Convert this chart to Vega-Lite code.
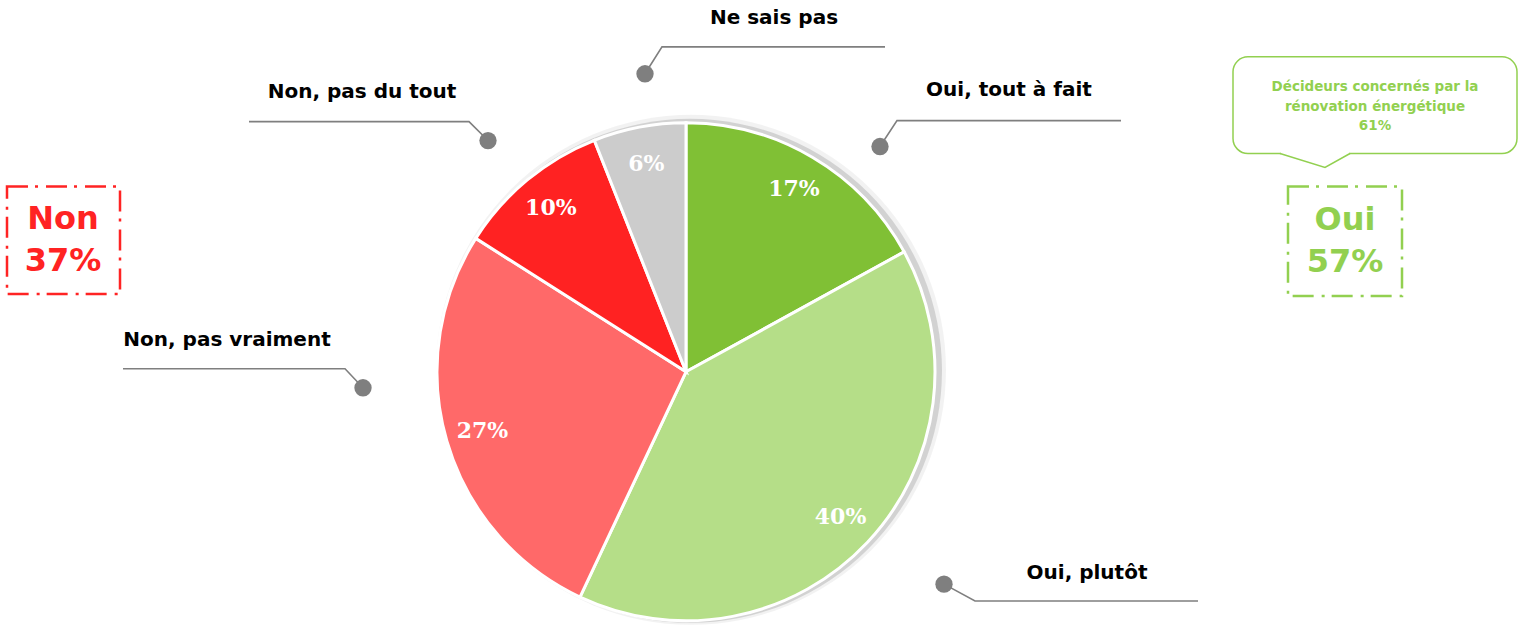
{
  "$schema": "https://vega.github.io/schema/vega-lite/v6.json",
  "width": 1518,
  "height": 626,
  "autosize": {"type": "fit", "contains": "padding"},
  "padding": 0,
  "background": "white",
  "config": {"view": {"stroke": null}},
  "datasets": {
    "slices": [
      {"cat": "Oui, tout à fait", "pct": 17, "ord": 1, "label": "17%"},
      {"cat": "Oui, plutôt", "pct": 40, "ord": 2, "label": "40%"},
      {"cat": "Non, pas vraiment", "pct": 27, "ord": 3, "label": "27%"},
      {"cat": "Non, pas du tout", "pct": 10, "ord": 4, "label": "10%"},
      {"cat": "Ne sais pas", "pct": 6, "ord": 5, "label": "6%"}
    ],
    "leaders": [
      {"cat": "Ne sais pas", "seq": 0, "x": 645, "y": 74},
      {"cat": "Ne sais pas", "seq": 1, "x": 662, "y": 47},
      {"cat": "Ne sais pas", "seq": 2, "x": 885, "y": 47},
      {"cat": "Oui, tout à fait", "seq": 0, "x": 880, "y": 147},
      {"cat": "Oui, tout à fait", "seq": 1, "x": 897, "y": 121},
      {"cat": "Oui, tout à fait", "seq": 2, "x": 1121, "y": 121},
      {"cat": "Non, pas du tout", "seq": 0, "x": 488, "y": 141},
      {"cat": "Non, pas du tout", "seq": 1, "x": 469, "y": 122},
      {"cat": "Non, pas du tout", "seq": 2, "x": 249, "y": 122},
      {"cat": "Non, pas vraiment", "seq": 0, "x": 363, "y": 389},
      {"cat": "Non, pas vraiment", "seq": 1, "x": 345, "y": 370},
      {"cat": "Non, pas vraiment", "seq": 2, "x": 123, "y": 370},
      {"cat": "Oui, plutôt", "seq": 0, "x": 944, "y": 586},
      {"cat": "Oui, plutôt", "seq": 1, "x": 975, "y": 603},
      {"cat": "Oui, plutôt", "seq": 2, "x": 1198, "y": 603}
    ],
    "catLabels": [
      {"t": "Ne sais pas", "x": 774, "y": 18},
      {"t": "Oui, tout à fait", "x": 1009, "y": 90},
      {"t": "Non, pas du tout", "x": 362, "y": 92},
      {"t": "Non, pas vraiment", "x": 227, "y": 341},
      {"t": "Oui, plutôt", "x": 1087, "y": 575}
    ],
    "boxes": [
      {"side": "Oui", "x": 1288, "x2": 1402, "y": 187, "y2": 297},
      {"side": "Non", "x": 7, "x2": 120, "y": 187, "y2": 295}
    ],
    "bigText": [
      {"side": "Oui", "t": "Oui", "x": 1345, "y": 221},
      {"side": "Oui", "t": "57%", "x": 1345, "y": 263},
      {"side": "Non", "t": "Non", "x": 63, "y": 220},
      {"side": "Non", "t": "37%", "x": 63, "y": 262}
    ],
    "bubble": [{"x": 1233, "x2": 1517, "y": 57, "y2": 154}],
    "bubbleCover": [{"x": 1281, "x2": 1349, "y": 154}],
    "pointer": [
      {"seq": 0, "x": 1280, "y": 154},
      {"seq": 1, "x": 1325, "y": 168},
      {"seq": 2, "x": 1350, "y": 154}
    ],
    "bubbleText": [
      {"t": "Décideurs concernés par la", "x": 1375, "y": 87},
      {"t": "rénovation énergétique", "x": 1375, "y": 107},
      {"t": "61%", "x": 1375, "y": 126}
    ]
  },
  "layer": [
    {
      "data": {"values": [{"r": 1}]},
      "mark": {"type": "arc", "outerRadius": 255, "theta": 0, "theta2": 6.2832, "fill": "#000000", "opacity": 0.05},
      "encoding": {
        "x": {"datum": 691, "type": "quantitative", "scale": {"domain": [0, 1518], "nice": false, "zero": false}, "axis": null},
        "y": {"datum": 371, "type": "quantitative", "scale": {"domain": [0, 626], "reverse": true, "nice": false, "zero": false}, "axis": null}
      }
    },
    {
      "data": {"values": [{"r": 1}]},
      "mark": {"type": "arc", "outerRadius": 252, "theta": 0, "theta2": 6.2832, "fill": "#000000", "opacity": 0.13},
      "encoding": {
        "x": {"datum": 690, "type": "quantitative", "scale": {"domain": [0, 1518], "nice": false, "zero": false}, "axis": null},
        "y": {"datum": 372, "type": "quantitative", "scale": {"domain": [0, 626], "reverse": true, "nice": false, "zero": false}, "axis": null}
      }
    },
    {
      "data": {"name": "slices"},
      "mark": {"type": "arc", "outerRadius": 249, "stroke": "white", "strokeWidth": 3},
      "encoding": {
        "x": {"datum": 686, "type": "quantitative", "scale": {"domain": [0, 1518], "nice": false, "zero": false}, "axis": null},
        "y": {"datum": 373, "type": "quantitative", "scale": {"domain": [0, 626], "reverse": true, "nice": false, "zero": false}, "axis": null},
        "theta": {"field": "pct", "type": "quantitative", "stack": true},
        "order": {"field": "ord", "type": "quantitative"},
        "color": {
          "field": "cat",
          "type": "nominal",
          "scale": {
            "domain": ["Oui, tout à fait", "Oui, plutôt", "Non, pas vraiment", "Non, pas du tout", "Ne sais pas"],
            "range": ["#80C035", "#B5DE88", "#FF6969", "#FF2222", "#CCCCCC"]
          },
          "legend": null
        }
      }
    },
    {
      "data": {"name": "slices"},
      "mark": {"type": "text", "radius": 212, "font": "DejaVu Serif", "fontWeight": "bold", "fontSize": 22, "fill": "white", "align": "center", "baseline": "middle"},
      "encoding": {
        "x": {"datum": 686, "type": "quantitative", "scale": {"domain": [0, 1518], "nice": false, "zero": false}, "axis": null},
        "y": {"datum": 373, "type": "quantitative", "scale": {"domain": [0, 626], "reverse": true, "nice": false, "zero": false}, "axis": null},
        "theta": {"field": "pct", "type": "quantitative", "stack": true},
        "order": {"field": "ord", "type": "quantitative"},
        "detail": {"field": "cat", "type": "nominal"},
        "text": {"field": "label", "type": "nominal"}
      }
    },
    {
      "data": {"name": "leaders"},
      "mark": {"type": "line", "stroke": "#7F7F7F", "strokeWidth": 1.6},
      "encoding": {
        "x": {"field": "x", "type": "quantitative", "scale": {"domain": [0, 1518], "nice": false, "zero": false}, "axis": null},
        "y": {"field": "y", "type": "quantitative", "scale": {"domain": [0, 626], "reverse": true, "nice": false, "zero": false}, "axis": null},
        "detail": {"field": "cat", "type": "nominal"},
        "order": {"field": "seq", "type": "quantitative"}
      }
    },
    {
      "data": {"name": "leaders"},
      "transform": [{"filter": "datum.seq == 0"}],
      "mark": {"type": "point", "filled": true, "fill": "#7F7F7F", "opacity": 1, "size": 300, "shape": "circle"},
      "encoding": {
        "x": {"field": "x", "type": "quantitative", "scale": {"domain": [0, 1518], "nice": false, "zero": false}, "axis": null},
        "y": {"field": "y", "type": "quantitative", "scale": {"domain": [0, 626], "reverse": true, "nice": false, "zero": false}, "axis": null}
      }
    },
    {
      "data": {"name": "catLabels"},
      "mark": {"type": "text", "font": "DejaVu Sans", "fontWeight": "bold", "fontSize": 20, "fill": "#000000", "align": "center", "baseline": "middle"},
      "encoding": {
        "x": {"field": "x", "type": "quantitative", "scale": {"domain": [0, 1518], "nice": false, "zero": false}, "axis": null},
        "y": {"field": "y", "type": "quantitative", "scale": {"domain": [0, 626], "reverse": true, "nice": false, "zero": false}, "axis": null},
        "text": {"field": "t", "type": "nominal"}
      }
    },
    {
      "data": {"name": "bubble"},
      "mark": {"type": "rect", "fill": "white", "stroke": "#92D050", "strokeWidth": 1.5, "cornerRadius": 15},
      "encoding": {
        "x": {"field": "x", "type": "quantitative", "scale": {"domain": [0, 1518], "nice": false, "zero": false}, "axis": null},
        "x2": {"field": "x2"},
        "y": {"field": "y", "type": "quantitative", "scale": {"domain": [0, 626], "reverse": true, "nice": false, "zero": false}, "axis": null},
        "y2": {"field": "y2"}
      }
    },
    {
      "data": {"name": "bubbleCover"},
      "mark": {"type": "rule", "stroke": "white", "strokeWidth": 4},
      "encoding": {
        "x": {"field": "x", "type": "quantitative", "scale": {"domain": [0, 1518], "nice": false, "zero": false}, "axis": null},
        "x2": {"field": "x2"},
        "y": {"field": "y", "type": "quantitative", "scale": {"domain": [0, 626], "reverse": true, "nice": false, "zero": false}, "axis": null}
      }
    },
    {
      "data": {"name": "pointer"},
      "mark": {"type": "line", "stroke": "#92D050", "strokeWidth": 1.5},
      "encoding": {
        "x": {"field": "x", "type": "quantitative", "scale": {"domain": [0, 1518], "nice": false, "zero": false}, "axis": null},
        "y": {"field": "y", "type": "quantitative", "scale": {"domain": [0, 626], "reverse": true, "nice": false, "zero": false}, "axis": null},
        "order": {"field": "seq", "type": "quantitative"}
      }
    },
    {
      "data": {"name": "bubbleText"},
      "mark": {"type": "text", "font": "DejaVu Sans", "fontWeight": "bold", "fontSize": 13.5, "fill": "#92D050", "align": "center", "baseline": "middle"},
      "encoding": {
        "x": {"field": "x", "type": "quantitative", "scale": {"domain": [0, 1518], "nice": false, "zero": false}, "axis": null},
        "y": {"field": "y", "type": "quantitative", "scale": {"domain": [0, 626], "reverse": true, "nice": false, "zero": false}, "axis": null},
        "text": {"field": "t", "type": "nominal"}
      }
    },
    {
      "data": {"name": "boxes"},
      "mark": {"type": "rect", "fill": null, "fillOpacity": 0, "strokeWidth": 2.5, "strokeDash": [21, 7, 3, 8]},
      "encoding": {
        "x": {"field": "x", "type": "quantitative", "scale": {"domain": [0, 1518], "nice": false, "zero": false}, "axis": null},
        "x2": {"field": "x2"},
        "y": {"field": "y", "type": "quantitative", "scale": {"domain": [0, 626], "reverse": true, "nice": false, "zero": false}, "axis": null},
        "y2": {"field": "y2"},
        "stroke": {"field": "side", "type": "nominal", "scale": {"domain": ["Oui", "Non"], "range": ["#92D050", "#FF2323"]}, "legend": null}
      }
    },
    {
      "data": {"name": "bigText"},
      "mark": {"type": "text", "font": "DejaVu Sans", "fontWeight": "bold", "fontSize": 32, "align": "center", "baseline": "middle"},
      "encoding": {
        "x": {"field": "x", "type": "quantitative", "scale": {"domain": [0, 1518], "nice": false, "zero": false}, "axis": null},
        "y": {"field": "y", "type": "quantitative", "scale": {"domain": [0, 626], "reverse": true, "nice": false, "zero": false}, "axis": null},
        "text": {"field": "t", "type": "nominal"},
        "fill": {"field": "side", "type": "nominal", "scale": {"domain": ["Oui", "Non"], "range": ["#92D050", "#FF2323"]}, "legend": null}
      }
    }
  ]
}
